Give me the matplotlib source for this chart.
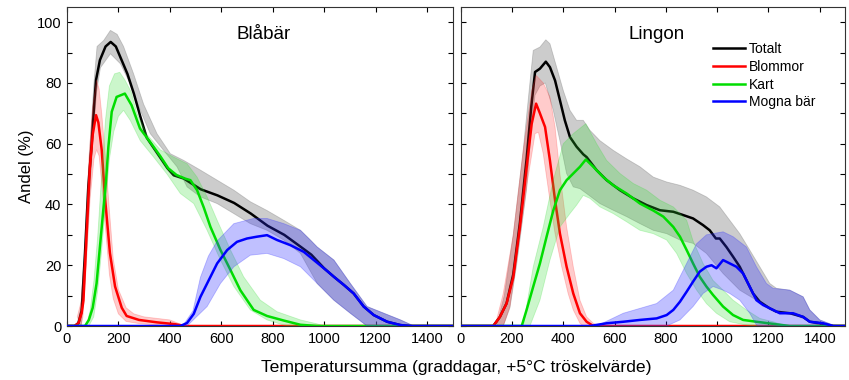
import matplotlib
matplotlib.use("Agg")
import matplotlib.pyplot as plt
from matplotlib.ticker import MultipleLocator

plt.rcParams["font.family"] = ["Liberation Sans", "DejaVu Sans"]

# ---------------- Blåbär ----------------
bla_tot_x = [0, 30, 45, 57, 70, 83, 96, 105, 113, 128, 150, 170, 190, 210, 235, 260, 285, 310, 350, 390, 415,
             455, 520, 585, 650, 715, 780, 845, 910, 950, 1000, 1038, 1077, 1115, 1154, 1193, 1245, 1297, 1340, 1500]
bla_tot_y = [0, 0, 1, 5, 24, 46, 60, 72, 81, 87.5, 92, 93.5, 92, 88, 83, 76.5, 69, 62, 57, 52, 49.6,
             48.5, 45, 43, 40.5, 37, 33, 30, 26, 23.5, 19, 16.2, 13.5, 10.7, 6.4, 3.6, 1.4, 0.3, 0, 0]
bla_tot_hi_x = [40, 60, 75, 90, 105, 117, 143, 169, 195, 220, 259, 298, 350, 402, 454, 519, 584, 649, 713, 778,
                843, 908, 947, 973, 1038, 1102, 1167, 1232, 1297, 1349]
bla_tot_hi = [1, 8, 30, 60, 80, 92, 94, 97.3, 96, 92, 83, 73, 63.3, 56.7, 54.5, 51.3, 48, 44.7, 40.9, 38,
              34.8, 31.5, 28.3, 26, 21.7, 14, 6.4, 4.2, 2, 0]
bla_tot_lo_x = [55, 70, 85, 100, 115, 130, 169, 208, 246, 285, 324, 376, 428, 467, 519, 584, 649, 713, 778,
                843, 908, 973, 1038, 1102, 1167]
bla_tot_lo = [0, 15, 38, 60, 77, 85, 89.6, 86.3, 79.7, 71, 63.3, 57.8, 52.4, 45.8, 42.5, 40.3, 37, 33.7, 31.5,
              28.3, 23.9, 14, 8.5, 4.2, 0]

bla_blo_x = [0, 30, 45, 57, 64, 76, 89, 100, 113, 122, 135, 148, 167, 187, 213, 232, 280, 350, 420, 460, 1500]
bla_blo_y = [0, 0, 1, 4.3, 8.4, 30, 52, 63, 69.4, 67, 58, 42, 24, 13, 6, 3.3, 2, 1.2, 0.6, 0, 0]
bla_blo_hi_x = [40, 55, 70, 85, 100, 115, 125, 135, 150, 165, 180, 200, 230, 260, 300, 400, 460]
bla_blo_hi = [3, 8, 25, 55, 72, 81, 78, 70, 55, 38, 22, 12, 6, 4, 3, 2, 0]
bla_blo_lo_x = [55, 62, 75, 90, 105, 115, 125, 135, 150, 165, 180, 200, 230, 280, 400]
bla_blo_lo = [0, 3, 20, 42, 55, 58, 56, 47, 32, 17, 9, 4, 1.5, 0.8, 0]

bla_kar_x = [0, 70, 85, 100, 115, 128, 141, 152, 161, 174, 193, 225, 251, 284, 323, 362, 394, 426, 460, 480,
             506, 532, 558, 597, 636, 674, 726, 778, 843, 908, 973, 1500]
bla_kar_y = [0, 0, 2, 6, 14, 26, 38, 48, 59, 70.5, 75.4, 76.5, 72.7, 65, 60.6, 56, 51.9, 49.7, 48.5, 48,
             44.7, 39, 32.6, 25, 18.4, 11.8, 5.3, 3.3, 1.8, 0.4, 0, 0]
bla_kar_hi_x = [75, 90, 105, 120, 135, 150, 165, 185, 205, 225, 250, 272, 311, 363, 415, 467, 506, 545, 584,
                636, 687, 752, 817, 908, 973, 1000]
bla_kar_hi = [0, 5, 15, 30, 50, 68, 79, 83, 83.5, 81, 77, 70, 63, 58, 55.6, 53.4, 49, 42.5, 34.8,
              25, 16.2, 8.5, 4.7, 2, 0.7, 0]
bla_kar_lo_x = [85, 104, 120, 135, 150, 165, 182, 200, 220, 246, 285, 337, 389, 441, 493, 545, 597, 649, 713,
                778, 843, 870]
bla_kar_lo = [0, 3, 12, 25, 40, 55, 64, 69, 71, 67.7, 61, 55.6, 50, 43.6, 40.3, 31.5, 21.7, 13, 5.3,
              2, 0.3, 0]

bla_mog_x = [0, 441, 467, 493, 519, 545, 584, 623, 661, 700, 739, 778, 817, 869, 921, 960, 999, 1038, 1077,
             1115, 1154, 1193, 1245, 1297, 1336, 1500]
bla_mog_y = [0, 0, 1, 4, 9.6, 14, 20.6, 25, 27.7, 28.8, 29.4, 29.9, 28.3, 26.6, 24.4, 21.7, 19, 16.2, 13.5,
             10.7, 6.4, 3.6, 1.4, 0.3, 0, 0]
bla_mog_hi_x = [450, 490, 519, 550, 584, 649, 726, 778, 843, 908, 973, 1038, 1102, 1167, 1232, 1297, 1349]
bla_mog_hi = [0, 5, 16, 23, 28, 33.7, 35.4, 35.4, 33.7, 31.5, 26, 21.7, 14, 6.4, 4.2, 2, 0]
bla_mog_lo_x = [467, 545, 597, 649, 713, 778, 843, 908, 973, 1038, 1102, 1167]
bla_mog_lo = [0, 6.4, 14, 19.5, 23.3, 23.9, 22.2, 19.5, 14, 8.5, 4.2, 0]

# ---------------- Lingon ----------------
lin_tot_x = [0, 127, 153, 179, 205, 231, 257, 275, 290, 309, 332, 348, 368, 387, 406, 426, 452, 478, 491, 530,
             569, 621, 673, 725, 777, 829, 868, 906, 945, 971, 995, 1010, 1036, 1062, 1088, 1114, 1140, 1166,
             1205, 1231, 1283, 1335, 1361, 1400, 1452, 1500]
lin_tot_y = [0, 0, 3, 7.5, 17, 34, 55, 72, 83.6, 84.7, 87, 85.2, 80.8, 74.3, 67.7, 62.2, 59, 56.5, 55.6, 51.3,
             48, 44.7, 42, 39.8, 38.1, 37.6, 36.5, 35.4, 33.2, 31.5, 28.8, 28.8, 26, 22.8, 19.5, 15.1, 10.7, 8,
             5.8, 4.7, 4.2, 3, 1.4, 0.9, 0, 0]
lin_tot_hi_x = [140, 170, 205, 244, 270, 283, 309, 332, 348, 374, 400, 426, 452, 478, 504, 543, 595, 647, 699,
                751, 803, 855, 906, 958, 1010, 1049, 1088, 1127, 1166, 1205, 1231, 1283, 1335, 1361, 1400, 1452,
                1504]
lin_tot_hi = [0, 10, 30, 58, 80, 90.7, 91.8, 94.2, 92.9, 85.2, 77.5, 71, 67.7, 67.7, 64.4, 61, 57.8, 55, 52.4,
              49, 47.4, 46.3, 44.7, 42.5, 39.2, 34.8, 30.4, 25, 19.5, 14, 12.4, 11.8, 9.6, 5.3, 2, 0.3, 0]
lin_tot_lo_x = [166, 192, 218, 257, 275, 290, 309, 330, 361, 387, 413, 439, 465, 491, 543, 595, 647, 699, 751,
                803, 855, 906, 958, 1023, 1088, 1153, 1218, 1283, 1348, 1400]
lin_tot_lo = [0, 6, 20, 45, 65, 76, 79, 80, 71, 61, 50.2, 45.8, 45.2, 43.6, 40.3, 38.1, 36, 33.7, 31.5,
              30.4, 28.3, 27.2, 23.9, 17.3, 11.8, 8.5, 5.3, 4.2, 2, 0]

lin_blo_x = [0, 127, 153, 179, 205, 231, 257, 277, 294, 309, 329, 348, 368, 387, 413, 439, 465, 491, 517, 1500]
lin_blo_y = [0, 0, 3, 7.4, 16, 32.6, 52, 66.6, 73.2, 70, 65.5, 54.5, 41.4, 30.4, 19.5, 10.7, 4.2, 1.4, 0, 0]
lin_blo_hi_x = [134, 166, 205, 244, 277, 294, 322, 348, 368, 387, 413, 439, 465, 491, 517, 543]
lin_blo_hi = [0, 10.7, 30, 57.8, 77.5, 82.5, 80, 75.4, 65.5, 50, 32.6, 19.5, 8.5, 3, 0.9, 0]
lin_blo_lo_x = [166, 192, 218, 257, 290, 303, 322, 348, 368, 394, 419, 439, 465, 478]
lin_blo_lo = [0, 6.4, 21.7, 45.8, 63.3, 63.8, 56.7, 41.4, 30.4, 19.5, 10.7, 5.3, 0.9, 0]

lin_kar_x = [0, 238, 257, 283, 309, 335, 361, 387, 413, 439, 465, 488, 517, 556, 595, 647, 699, 751, 790, 829,
             855, 881, 906, 932, 958, 984, 1023, 1062, 1101, 1153, 1218, 1283, 1500]
lin_kar_y = [0, 0, 5.3, 13, 20.6, 29.4, 38, 44.7, 48, 50.2, 52.4, 54.8, 52.4, 49, 46.3, 43.6, 40.3, 38, 36, 32.6,
             29.4, 25, 20.6, 16.2, 13, 10.2, 6.4, 3.6, 2, 1.4, 0.7, 0, 0]
lin_kar_hi_x = [244, 283, 322, 361, 400, 439, 488, 530, 569, 621, 673, 725, 777, 829, 881, 906, 945, 984, 1023,
                1062, 1114, 1166, 1218, 1270]
lin_kar_hi = [0, 19.5, 32.6, 48, 60, 63.3, 66.6, 60, 54.5, 50.2, 46.9, 44.7, 41.4, 39.2, 34.8, 28, 20.6, 15,
              11.8, 8.5, 5.3, 2.5, 1.4, 0]
lin_kar_lo_x = [270, 309, 348, 387, 426, 452, 478, 504, 543, 595, 647, 699, 751, 803, 842, 881, 920, 958, 997,
                1049, 1114, 1153]
lin_kar_lo = [0, 8.5, 21.7, 32.6, 37, 39.8, 43, 42, 39.2, 37, 34.3, 31.5, 30.4, 28.3, 23.9, 17.3, 11.8, 7.4,
              4.2, 1.4, 0.3, 0]

lin_mog_x = [0, 504, 569, 634, 699, 764, 803, 829, 855, 881, 906, 932, 958, 978, 997, 1023, 1049, 1075, 1101,
             1127, 1153, 1179, 1218, 1244, 1296, 1335, 1361, 1413, 1452, 1500]
lin_mog_y = [0, 0, 0.9, 1.4, 2, 2.5, 3.6, 5.3, 8, 11.3, 14.6, 17.9, 19.5, 20, 19, 21.7, 20.6, 19.5, 17.3,
             12.9, 8.5, 6.9, 5.3, 4.2, 4.2, 3, 1.4, 0.9, 0, 0]
lin_mog_hi_x = [530, 634, 764, 829, 881, 919, 958, 1023, 1062, 1114, 1153, 1192, 1218, 1283, 1335, 1361, 1400,
                1452, 1500]
lin_mog_hi = [0, 4.2, 7.4, 11.8, 20.6, 27, 30, 31, 29.4, 26, 19.5, 14, 12.4, 11.8, 9.6, 5.3, 2, 0.3, 0]
lin_mog_lo_x = [803, 855, 906, 945, 984, 1023, 1049, 1088, 1127, 1153, 1166]
lin_mog_lo = [0, 2, 6.4, 10.7, 13, 11.8, 10.7, 8.5, 4.2, 0.3, 0]

labels = ["Totalt", "Blommor", "Kart", "Mogna bär"]
colors = ["black", "#ff0000", "#00dd00", "#0000ff"]
band_colors = ["#808080", "#ff3030", "#30dd30", "#3030ff"]
band_alpha = [0.4, 0.25, 0.25, 0.3]


def draw_panel(ax, series, title):
    for i, (x, y, xh, yh, xl, yl) in enumerate(series):
        px = list(xh) + list(xl)[::-1]
        py = list(yh) + list(yl)[::-1]
        ax.fill(px, py, facecolor=band_colors[i], alpha=band_alpha[i],
                edgecolor=band_colors[i], linewidth=0.6, zorder=2 + 2 * i)
        ax.plot(x, y, color=colors[i], lw=1.8, label=labels[i], zorder=3 + 2 * i)
    ax.set_xlim(0, 1500)
    ax.set_ylim(0, 105)
    ax.xaxis.set_major_locator(MultipleLocator(200))
    ax.yaxis.set_major_locator(MultipleLocator(20))
    ax.yaxis.set_minor_locator(MultipleLocator(10))
    ax.tick_params(which="both", direction="in", top=True, right=True, length=3.5,
                   width=0.8, labelsize=10.5, pad=4)
    for s in ax.spines.values():
        s.set_linewidth(0.8)
        s.set_color("#333333")
    ax.text(0.51, 0.915, title, transform=ax.transAxes, ha="center", va="center", fontsize=13.5)


fig = plt.figure(figsize=(8.49, 3.8), dpi=100)
ax1 = fig.add_axes([0.0789, 0.1421, 0.4543, 0.8395])
ax2 = fig.add_axes([0.5426, 0.1421, 0.4532, 0.8395])

draw_panel(ax1, [
    (bla_tot_x, bla_tot_y, bla_tot_hi_x, bla_tot_hi, bla_tot_lo_x, bla_tot_lo),
    (bla_blo_x, bla_blo_y, bla_blo_hi_x, bla_blo_hi, bla_blo_lo_x, bla_blo_lo),
    (bla_kar_x, bla_kar_y, bla_kar_hi_x, bla_kar_hi, bla_kar_lo_x, bla_kar_lo),
    (bla_mog_x, bla_mog_y, bla_mog_hi_x, bla_mog_hi, bla_mog_lo_x, bla_mog_lo),
], "Blåbär")
draw_panel(ax2, [
    (lin_tot_x, lin_tot_y, lin_tot_hi_x, lin_tot_hi, lin_tot_lo_x, lin_tot_lo),
    (lin_blo_x, lin_blo_y, lin_blo_hi_x, lin_blo_hi, lin_blo_lo_x, lin_blo_lo),
    (lin_kar_x, lin_kar_y, lin_kar_hi_x, lin_kar_hi, lin_kar_lo_x, lin_kar_lo),
    (lin_mog_x, lin_mog_y, lin_mog_hi_x, lin_mog_hi, lin_mog_lo_x, lin_mog_lo),
], "Lingon")

ax2.tick_params(labelleft=False)
ax1.set_ylabel("Andel (%)", fontsize=12, labelpad=2)

ax2.legend(loc="upper left", bbox_to_anchor=(0.656, 0.89), frameon=False, fontsize=10,
           handlelength=2.3, handletextpad=0.3, labelspacing=0.27, borderpad=0, borderaxespad=0)

fig.text(0.537, 0.022, "Temperatursumma (graddagar, +5°C tröskelvärde)", ha="center", fontsize=12.6)

fig.savefig("out.png", dpi=100)
